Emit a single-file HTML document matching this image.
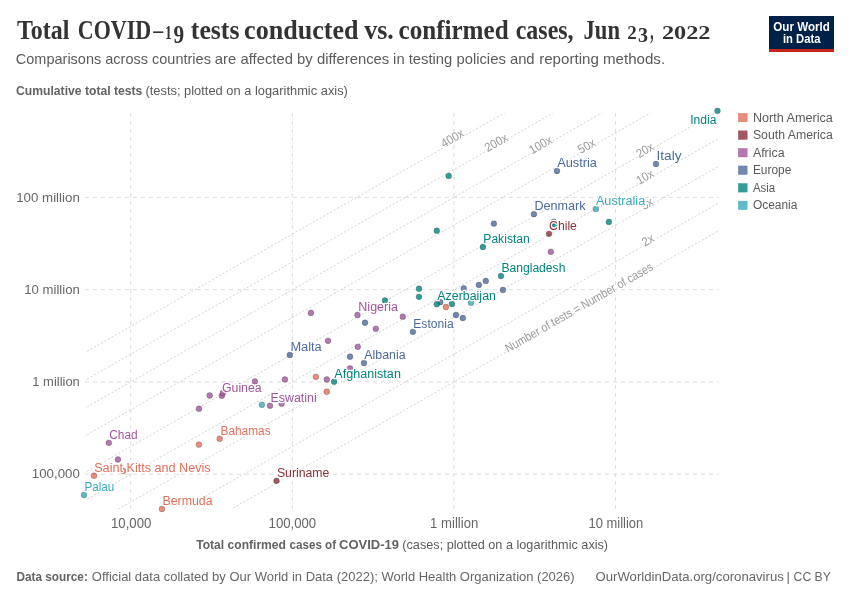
<!DOCTYPE html><html><head><meta charset="utf-8"><style>html,body{margin:0;padding:0;background:#fff;width:850px;height:600px;overflow:hidden}svg{display:block;will-change:transform}</style></head><body>
<svg width="850" height="600" viewBox="0 0 850 600" font-family="Liberation Sans, sans-serif">
<rect width="850" height="600" fill="#fff"/>
<text x="17.10" y="38.7" font-family="Liberation Serif, serif" font-weight="bold" font-size="27" fill="#333" textLength="52.20" lengthAdjust="spacingAndGlyphs">Total</text>
<text x="77.80" y="38.7" font-family="Liberation Serif, serif" font-weight="bold" font-size="27" fill="#333" textLength="73.40" lengthAdjust="spacingAndGlyphs">COVID</text>
<text x="153.30" y="38.2" font-family="Liberation Serif, serif" font-weight="bold" font-size="24" fill="#333" textLength="9.90" lengthAdjust="spacingAndGlyphs">–</text>
<text x="165.00" y="38.7" font-family="Liberation Serif, serif" font-weight="bold" font-size="18.6" fill="#333" textLength="6.80" lengthAdjust="spacingAndGlyphs">1</text>
<text x="173.50" y="42.5" font-family="Liberation Serif, serif" font-weight="bold" font-size="25.5" fill="#333" textLength="10.60" lengthAdjust="spacingAndGlyphs">9</text>
<text x="190.80" y="38.7" font-family="Liberation Serif, serif" font-weight="bold" font-size="27" fill="#333" textLength="48.70" lengthAdjust="spacingAndGlyphs">tests</text>
<text x="244.10" y="38.7" font-family="Liberation Serif, serif" font-weight="bold" font-size="27" fill="#333" textLength="114.40" lengthAdjust="spacingAndGlyphs">conducted</text>
<text x="364.20" y="38.7" font-family="Liberation Serif, serif" font-weight="bold" font-size="27" fill="#333" textLength="29.60" lengthAdjust="spacingAndGlyphs">vs.</text>
<text x="398.50" y="38.7" font-family="Liberation Serif, serif" font-weight="bold" font-size="27" fill="#333" textLength="110.10" lengthAdjust="spacingAndGlyphs">confirmed</text>
<text x="515.70" y="38.7" font-family="Liberation Serif, serif" font-weight="bold" font-size="27" fill="#333" textLength="57.90" lengthAdjust="spacingAndGlyphs">cases,</text>
<text x="583.50" y="38.7" font-family="Liberation Serif, serif" font-weight="bold" font-size="27" fill="#333" textLength="36.50" lengthAdjust="spacingAndGlyphs">Jun</text>
<text x="627.30" y="38.9" font-family="Liberation Serif, serif" font-weight="bold" font-size="19" fill="#333" textLength="9.50" lengthAdjust="spacingAndGlyphs">2</text>
<text x="637.90" y="42.2" font-family="Liberation Serif, serif" font-weight="bold" font-size="22" fill="#333" textLength="10.00" lengthAdjust="spacingAndGlyphs">3</text>
<text x="650.20" y="38.7" font-family="Liberation Serif, serif" font-weight="bold" font-size="27" fill="#333" textLength="3.30" lengthAdjust="spacingAndGlyphs">,</text>
<text x="661.90" y="38.9" font-family="Liberation Serif, serif" font-weight="bold" font-size="19" fill="#333" textLength="48.60" lengthAdjust="spacingAndGlyphs">2022</text>
<text x="15.80" y="64.4" font-size="14.6" fill="#5b5b5b" textLength="195.10" lengthAdjust="spacingAndGlyphs">Comparisons across countries</text>
<text x="214.80" y="64.4" font-size="14.6" fill="#5b5b5b" textLength="174.50" lengthAdjust="spacingAndGlyphs">are affected by differences</text>
<text x="393.10" y="64.4" font-size="14.6" fill="#5b5b5b" textLength="141.50" lengthAdjust="spacingAndGlyphs">in testing policies and</text>
<text x="539.20" y="64.4" font-size="14.6" fill="#5b5b5b" textLength="125.90" lengthAdjust="spacingAndGlyphs">reporting methods.</text>
<text x="16" y="95.2" font-size="12.6" fill="#636363"><tspan font-weight="bold" textLength="126.4" lengthAdjust="spacingAndGlyphs">Cumulative total tests</tspan></text>
<text x="145.5" y="95.2" font-size="12.6" fill="#5b5b5b" textLength="202.4" lengthAdjust="spacingAndGlyphs">(tests; plotted on a logarithmic axis)</text>
<rect x="769" y="16" width="65" height="36" fill="#002147"/><rect x="769" y="49" width="65" height="3" fill="#c8261d"/>
<text x="801.6" y="30.8" font-size="12.2" font-weight="bold" fill="#fff" text-anchor="middle" textLength="56.5" lengthAdjust="spacingAndGlyphs">Our World</text>
<text x="801.7" y="42.6" font-size="12.2" font-weight="bold" fill="#fff" text-anchor="middle" textLength="37.5" lengthAdjust="spacingAndGlyphs">in Data</text>
<line x1="85" y1="197.4" x2="719" y2="197.4" stroke="#dddddd" stroke-width="1" stroke-dasharray="4,4"/>
<line x1="85" y1="289.66" x2="719" y2="289.66" stroke="#dddddd" stroke-width="1" stroke-dasharray="4,4"/>
<line x1="85" y1="381.93" x2="719" y2="381.93" stroke="#dddddd" stroke-width="1" stroke-dasharray="4,4"/>
<line x1="85" y1="474.2" x2="719" y2="474.2" stroke="#dddddd" stroke-width="1" stroke-dasharray="4,4"/>
<line x1="130.75" y1="113" x2="130.75" y2="509" stroke="#dddddd" stroke-width="1" stroke-dasharray="4,4"/>
<line x1="292.35" y1="113" x2="292.35" y2="509" stroke="#dddddd" stroke-width="1" stroke-dasharray="4,4"/>
<line x1="453.95" y1="113" x2="453.95" y2="509" stroke="#dddddd" stroke-width="1" stroke-dasharray="4,4"/>
<line x1="615.55" y1="113" x2="615.55" y2="509" stroke="#dddddd" stroke-width="1" stroke-dasharray="4,4"/>
<clipPath id="pc"><rect x="85" y="113" width="634" height="396"/></clipPath>
<g clip-path="url(#pc)">
<line x1="35" y1="381.05" x2="769" y2="-38.05" stroke="#c4c4c4" stroke-width="0.8" stroke-dasharray="2,2"/>
<line x1="35" y1="408.83" x2="769" y2="-10.27" stroke="#c4c4c4" stroke-width="0.8" stroke-dasharray="2,2"/>
<line x1="35" y1="436.60" x2="769" y2="17.50" stroke="#c4c4c4" stroke-width="0.8" stroke-dasharray="2,2"/>
<line x1="35" y1="464.38" x2="769" y2="45.28" stroke="#c4c4c4" stroke-width="0.8" stroke-dasharray="2,2"/>
<line x1="35" y1="501.10" x2="769" y2="82.00" stroke="#c4c4c4" stroke-width="0.8" stroke-dasharray="2,2"/>
<line x1="35" y1="528.87" x2="769" y2="109.77" stroke="#c4c4c4" stroke-width="0.8" stroke-dasharray="2,2"/>
<line x1="35" y1="556.65" x2="769" y2="137.55" stroke="#c4c4c4" stroke-width="0.8" stroke-dasharray="2,2"/>
<line x1="35" y1="593.37" x2="769" y2="174.27" stroke="#c4c4c4" stroke-width="0.8" stroke-dasharray="2,2"/>
<line x1="35" y1="621.14" x2="769" y2="202.04" stroke="#c4c4c4" stroke-width="0.8" stroke-dasharray="2,2"/>
</g>
<text transform="translate(452,137.7) rotate(-29.73)" x="0" y="4.8" font-size="12.3" fill="#999" text-anchor="middle" stroke="#fff" stroke-width="2" paint-order="stroke" textLength="24.5" lengthAdjust="spacingAndGlyphs">400x</text>
<text transform="translate(495.8,142) rotate(-29.73)" x="0" y="4.8" font-size="12.3" fill="#999" text-anchor="middle" stroke="#fff" stroke-width="2" paint-order="stroke" textLength="24.5" lengthAdjust="spacingAndGlyphs">200x</text>
<text transform="translate(540.2,144.3) rotate(-29.73)" x="0" y="4.8" font-size="12.3" fill="#999" text-anchor="middle" stroke="#fff" stroke-width="2" paint-order="stroke" textLength="24.5" lengthAdjust="spacingAndGlyphs">100x</text>
<text transform="translate(586.2,145.4) rotate(-29.73)" x="0" y="4.8" font-size="12.3" fill="#999" text-anchor="middle" stroke="#fff" stroke-width="2" paint-order="stroke" textLength="18" lengthAdjust="spacingAndGlyphs">50x</text>
<text transform="translate(644.6,149.5) rotate(-29.73)" x="0" y="4.8" font-size="12.3" fill="#999" text-anchor="middle" stroke="#fff" stroke-width="2" paint-order="stroke" textLength="18" lengthAdjust="spacingAndGlyphs">20x</text>
<text transform="translate(644.6,176.3) rotate(-29.73)" x="0" y="4.8" font-size="12.3" fill="#999" text-anchor="middle" stroke="#fff" stroke-width="2" paint-order="stroke" textLength="18" lengthAdjust="spacingAndGlyphs">10x</text>
<text transform="translate(646.7,203) rotate(-29.73)" x="0" y="4.8" font-size="12.3" fill="#999" text-anchor="middle" stroke="#fff" stroke-width="2" paint-order="stroke" textLength="12" lengthAdjust="spacingAndGlyphs">5x</text>
<text transform="translate(647.5,239.5) rotate(-29.73)" x="0" y="4.8" font-size="12.3" fill="#999" text-anchor="middle" stroke="#fff" stroke-width="2" paint-order="stroke" textLength="12" lengthAdjust="spacingAndGlyphs">2x</text>
<text transform="translate(578.6,306.9) rotate(-29.73)" x="0" y="4.8" font-size="12.3" fill="#999" text-anchor="middle" stroke="#fff" stroke-width="2" paint-order="stroke" textLength="168" lengthAdjust="spacingAndGlyphs">Number of tests = Number of cases</text>
<circle cx="199" cy="408.7" r="2.9" fill="#a2559c" fill-opacity="0.8" stroke="#333" stroke-opacity="0.55" stroke-width="0.5"/>
<circle cx="270" cy="405.7" r="2.9" fill="#a2559c" fill-opacity="0.8" stroke="#333" stroke-opacity="0.55" stroke-width="0.5"/>
<circle cx="108.8" cy="442.8" r="2.9" fill="#a2559c" fill-opacity="0.8" stroke="#333" stroke-opacity="0.55" stroke-width="0.5"/>
<circle cx="117.9" cy="459.5" r="2.9" fill="#a2559c" fill-opacity="0.8" stroke="#333" stroke-opacity="0.55" stroke-width="0.5"/>
<circle cx="254.9" cy="381.4" r="2.9" fill="#a2559c" fill-opacity="0.8" stroke="#333" stroke-opacity="0.55" stroke-width="0.5"/>
<circle cx="284.9" cy="379.4" r="2.9" fill="#a2559c" fill-opacity="0.8" stroke="#333" stroke-opacity="0.55" stroke-width="0.5"/>
<circle cx="209.7" cy="395.5" r="2.9" fill="#a2559c" fill-opacity="0.8" stroke="#333" stroke-opacity="0.55" stroke-width="0.5"/>
<circle cx="221.8" cy="395.8" r="2.9" fill="#a2559c" fill-opacity="0.8" stroke="#333" stroke-opacity="0.55" stroke-width="0.5"/>
<circle cx="222.9" cy="393" r="2.9" fill="#a2559c" fill-opacity="0.8" stroke="#333" stroke-opacity="0.55" stroke-width="0.5"/>
<circle cx="281.6" cy="403.7" r="2.9" fill="#a2559c" fill-opacity="0.8" stroke="#333" stroke-opacity="0.55" stroke-width="0.5"/>
<circle cx="310.9" cy="312.9" r="2.9" fill="#a2559c" fill-opacity="0.8" stroke="#333" stroke-opacity="0.55" stroke-width="0.5"/>
<circle cx="328" cy="340.8" r="2.9" fill="#a2559c" fill-opacity="0.8" stroke="#333" stroke-opacity="0.55" stroke-width="0.5"/>
<circle cx="326.8" cy="379.5" r="2.9" fill="#a2559c" fill-opacity="0.8" stroke="#333" stroke-opacity="0.55" stroke-width="0.5"/>
<circle cx="357.8" cy="346.8" r="2.9" fill="#a2559c" fill-opacity="0.8" stroke="#333" stroke-opacity="0.55" stroke-width="0.5"/>
<circle cx="350" cy="368.5" r="2.9" fill="#a2559c" fill-opacity="0.8" stroke="#333" stroke-opacity="0.55" stroke-width="0.5"/>
<circle cx="357.5" cy="315" r="2.9" fill="#a2559c" fill-opacity="0.8" stroke="#333" stroke-opacity="0.55" stroke-width="0.5"/>
<circle cx="375.8" cy="328.8" r="2.9" fill="#a2559c" fill-opacity="0.8" stroke="#333" stroke-opacity="0.55" stroke-width="0.5"/>
<circle cx="402.8" cy="316.7" r="2.9" fill="#a2559c" fill-opacity="0.8" stroke="#333" stroke-opacity="0.55" stroke-width="0.5"/>
<circle cx="550.8" cy="251.8" r="2.9" fill="#a2559c" fill-opacity="0.8" stroke="#333" stroke-opacity="0.55" stroke-width="0.5"/>
<circle cx="219.7" cy="438.7" r="2.9" fill="#e56e5a" fill-opacity="0.8" stroke="#333" stroke-opacity="0.55" stroke-width="0.5"/>
<circle cx="198.9" cy="444.6" r="2.9" fill="#e56e5a" fill-opacity="0.8" stroke="#333" stroke-opacity="0.55" stroke-width="0.5"/>
<circle cx="94" cy="475.7" r="2.9" fill="#e56e5a" fill-opacity="0.8" stroke="#333" stroke-opacity="0.55" stroke-width="0.5"/>
<circle cx="162" cy="509" r="2.9" fill="#e56e5a" fill-opacity="0.8" stroke="#333" stroke-opacity="0.55" stroke-width="0.5"/>
<circle cx="315.9" cy="376.8" r="2.9" fill="#e56e5a" fill-opacity="0.8" stroke="#333" stroke-opacity="0.55" stroke-width="0.5"/>
<circle cx="326.8" cy="391.7" r="2.9" fill="#e56e5a" fill-opacity="0.8" stroke="#333" stroke-opacity="0.55" stroke-width="0.5"/>
<circle cx="445.9" cy="307" r="2.9" fill="#e56e5a" fill-opacity="0.8" stroke="#333" stroke-opacity="0.55" stroke-width="0.5"/>
<circle cx="123" cy="471" r="2.9" fill="#e56e5a" fill-opacity="0.8" stroke="#333" stroke-opacity="0.55" stroke-width="0.5"/>
<circle cx="276.5" cy="480.8" r="2.9" fill="#883039" fill-opacity="0.8" stroke="#333" stroke-opacity="0.55" stroke-width="0.5"/>
<circle cx="549" cy="233.8" r="2.9" fill="#883039" fill-opacity="0.8" stroke="#333" stroke-opacity="0.55" stroke-width="0.5"/>
<circle cx="289.8" cy="355" r="2.9" fill="#4c6a9c" fill-opacity="0.8" stroke="#333" stroke-opacity="0.55" stroke-width="0.5"/>
<circle cx="350" cy="356.7" r="2.9" fill="#4c6a9c" fill-opacity="0.8" stroke="#333" stroke-opacity="0.55" stroke-width="0.5"/>
<circle cx="364" cy="363" r="2.9" fill="#4c6a9c" fill-opacity="0.8" stroke="#333" stroke-opacity="0.55" stroke-width="0.5"/>
<circle cx="365" cy="322.7" r="2.9" fill="#4c6a9c" fill-opacity="0.8" stroke="#333" stroke-opacity="0.55" stroke-width="0.5"/>
<circle cx="412.9" cy="331.8" r="2.9" fill="#4c6a9c" fill-opacity="0.8" stroke="#333" stroke-opacity="0.55" stroke-width="0.5"/>
<circle cx="440.2" cy="302.2" r="2.9" fill="#4c6a9c" fill-opacity="0.8" stroke="#333" stroke-opacity="0.55" stroke-width="0.5"/>
<circle cx="456" cy="315" r="2.9" fill="#4c6a9c" fill-opacity="0.8" stroke="#333" stroke-opacity="0.55" stroke-width="0.5"/>
<circle cx="462.8" cy="318" r="2.9" fill="#4c6a9c" fill-opacity="0.8" stroke="#333" stroke-opacity="0.55" stroke-width="0.5"/>
<circle cx="463.8" cy="288.4" r="2.9" fill="#4c6a9c" fill-opacity="0.8" stroke="#333" stroke-opacity="0.55" stroke-width="0.5"/>
<circle cx="478.9" cy="284.9" r="2.9" fill="#4c6a9c" fill-opacity="0.8" stroke="#333" stroke-opacity="0.55" stroke-width="0.5"/>
<circle cx="485.8" cy="280.9" r="2.9" fill="#4c6a9c" fill-opacity="0.8" stroke="#333" stroke-opacity="0.55" stroke-width="0.5"/>
<circle cx="502.9" cy="289.9" r="2.9" fill="#4c6a9c" fill-opacity="0.8" stroke="#333" stroke-opacity="0.55" stroke-width="0.5"/>
<circle cx="493.9" cy="223.6" r="2.9" fill="#4c6a9c" fill-opacity="0.8" stroke="#333" stroke-opacity="0.55" stroke-width="0.5"/>
<circle cx="533.9" cy="214.2" r="2.9" fill="#4c6a9c" fill-opacity="0.8" stroke="#333" stroke-opacity="0.55" stroke-width="0.5"/>
<circle cx="557" cy="171" r="2.9" fill="#4c6a9c" fill-opacity="0.8" stroke="#333" stroke-opacity="0.55" stroke-width="0.5"/>
<circle cx="656" cy="164" r="2.9" fill="#4c6a9c" fill-opacity="0.8" stroke="#333" stroke-opacity="0.55" stroke-width="0.5"/>
<circle cx="334.1" cy="381.7" r="2.9" fill="#00847e" fill-opacity="0.8" stroke="#333" stroke-opacity="0.55" stroke-width="0.5"/>
<circle cx="385" cy="300.4" r="2.9" fill="#00847e" fill-opacity="0.8" stroke="#333" stroke-opacity="0.55" stroke-width="0.5"/>
<circle cx="419" cy="288.7" r="2.9" fill="#00847e" fill-opacity="0.8" stroke="#333" stroke-opacity="0.55" stroke-width="0.5"/>
<circle cx="419" cy="296.8" r="2.9" fill="#00847e" fill-opacity="0.8" stroke="#333" stroke-opacity="0.55" stroke-width="0.5"/>
<circle cx="436.8" cy="304.2" r="2.9" fill="#00847e" fill-opacity="0.8" stroke="#333" stroke-opacity="0.55" stroke-width="0.5"/>
<circle cx="452" cy="304" r="2.9" fill="#00847e" fill-opacity="0.8" stroke="#333" stroke-opacity="0.55" stroke-width="0.5"/>
<circle cx="448.7" cy="175.9" r="2.9" fill="#00847e" fill-opacity="0.8" stroke="#333" stroke-opacity="0.55" stroke-width="0.5"/>
<circle cx="436.8" cy="230.7" r="2.9" fill="#00847e" fill-opacity="0.8" stroke="#333" stroke-opacity="0.55" stroke-width="0.5"/>
<circle cx="482.9" cy="247" r="2.9" fill="#00847e" fill-opacity="0.8" stroke="#333" stroke-opacity="0.55" stroke-width="0.5"/>
<circle cx="501" cy="276" r="2.9" fill="#00847e" fill-opacity="0.8" stroke="#333" stroke-opacity="0.55" stroke-width="0.5"/>
<circle cx="608.9" cy="221.9" r="2.9" fill="#00847e" fill-opacity="0.8" stroke="#333" stroke-opacity="0.55" stroke-width="0.5"/>
<circle cx="717.5" cy="110.8" r="2.9" fill="#00847e" fill-opacity="0.8" stroke="#333" stroke-opacity="0.55" stroke-width="0.5"/>
<circle cx="84" cy="495" r="2.9" fill="#38aaba" fill-opacity="0.8" stroke="#333" stroke-opacity="0.55" stroke-width="0.5"/>
<circle cx="261.9" cy="404.8" r="2.9" fill="#38aaba" fill-opacity="0.8" stroke="#333" stroke-opacity="0.55" stroke-width="0.5"/>
<circle cx="471" cy="302.7" r="2.9" fill="#38aaba" fill-opacity="0.8" stroke="#333" stroke-opacity="0.55" stroke-width="0.5"/>
<circle cx="595.8" cy="208.9" r="2.9" fill="#38aaba" fill-opacity="0.8" stroke="#333" stroke-opacity="0.55" stroke-width="0.5"/>
<circle cx="553.8" cy="221.8" r="2.9" fill="#4c6a9c" fill-opacity="0.8" stroke="#333" stroke-opacity="0.55" stroke-width="0.5"/>
<circle cx="554.6" cy="224.3" r="2.9" fill="#00847e" fill-opacity="0.8" stroke="#333" stroke-opacity="0.55" stroke-width="0.5"/>
<text x="690.20" y="124.10" font-size="12.5" fill="#00847e" stroke="#fff" stroke-width="2.5" stroke-linejoin="round" paint-order="stroke" textLength="26.2" lengthAdjust="spacingAndGlyphs">India</text>
<text x="656.50" y="160.40" font-size="12.5" fill="#4c6a9c" stroke="#fff" stroke-width="2.5" stroke-linejoin="round" paint-order="stroke" textLength="25" lengthAdjust="spacingAndGlyphs">Italy</text>
<text x="557.20" y="167.00" font-size="12.5" fill="#4c6a9c" stroke="#fff" stroke-width="2.5" stroke-linejoin="round" paint-order="stroke" textLength="39.8" lengthAdjust="spacingAndGlyphs">Austria</text>
<text x="534.40" y="210.00" font-size="12.5" fill="#4c6a9c" stroke="#fff" stroke-width="2.5" stroke-linejoin="round" paint-order="stroke" textLength="51.2" lengthAdjust="spacingAndGlyphs">Denmark</text>
<text x="595.90" y="204.70" font-size="12.5" fill="#38aaba" stroke="#fff" stroke-width="2.5" stroke-linejoin="round" paint-order="stroke" textLength="49.3" lengthAdjust="spacingAndGlyphs">Australia</text>
<text x="549.10" y="229.80" font-size="12.5" fill="#883039" stroke="#fff" stroke-width="2.5" stroke-linejoin="round" paint-order="stroke" textLength="27.8" lengthAdjust="spacingAndGlyphs">Chile</text>
<text x="483.30" y="242.90" font-size="12.5" fill="#00847e" stroke="#fff" stroke-width="2.5" stroke-linejoin="round" paint-order="stroke" textLength="46.5" lengthAdjust="spacingAndGlyphs">Pakistan</text>
<text x="501.40" y="271.70" font-size="12.5" fill="#00847e" stroke="#fff" stroke-width="2.5" stroke-linejoin="round" paint-order="stroke" textLength="64" lengthAdjust="spacingAndGlyphs">Bangladesh</text>
<text x="358.30" y="310.80" font-size="12.5" fill="#a2559c" stroke="#fff" stroke-width="2.5" stroke-linejoin="round" paint-order="stroke" textLength="39.7" lengthAdjust="spacingAndGlyphs">Nigeria</text>
<text x="437.20" y="299.80" font-size="12.5" fill="#00847e" stroke="#fff" stroke-width="2.5" stroke-linejoin="round" paint-order="stroke" textLength="58.8" lengthAdjust="spacingAndGlyphs">Azerbaijan</text>
<text x="413.30" y="327.70" font-size="12.5" fill="#4c6a9c" stroke="#fff" stroke-width="2.5" stroke-linejoin="round" paint-order="stroke" textLength="40.4" lengthAdjust="spacingAndGlyphs">Estonia</text>
<text x="290.40" y="351.20" font-size="12.5" fill="#4c6a9c" stroke="#fff" stroke-width="2.5" stroke-linejoin="round" paint-order="stroke" textLength="31.3" lengthAdjust="spacingAndGlyphs">Malta</text>
<text x="364.30" y="358.70" font-size="12.5" fill="#4c6a9c" stroke="#fff" stroke-width="2.5" stroke-linejoin="round" paint-order="stroke" textLength="41.2" lengthAdjust="spacingAndGlyphs">Albania</text>
<text x="334.30" y="377.90" font-size="12.5" fill="#00847e" stroke="#fff" stroke-width="2.5" stroke-linejoin="round" paint-order="stroke" textLength="66.6" lengthAdjust="spacingAndGlyphs">Afghanistan</text>
<text x="222.00" y="391.90" font-size="12.5" fill="#a2559c" stroke="#fff" stroke-width="2.5" stroke-linejoin="round" paint-order="stroke" textLength="39.6" lengthAdjust="spacingAndGlyphs">Guinea</text>
<text x="270.50" y="401.50" font-size="12.5" fill="#a2559c" stroke="#fff" stroke-width="2.5" stroke-linejoin="round" paint-order="stroke" textLength="46.2" lengthAdjust="spacingAndGlyphs">Eswatini</text>
<text x="109.30" y="438.90" font-size="12.5" fill="#a2559c" stroke="#fff" stroke-width="2.5" stroke-linejoin="round" paint-order="stroke" textLength="28.4" lengthAdjust="spacingAndGlyphs">Chad</text>
<text x="220.50" y="434.80" font-size="12.5" fill="#e56e5a" stroke="#fff" stroke-width="2.5" stroke-linejoin="round" paint-order="stroke" textLength="50.1" lengthAdjust="spacingAndGlyphs">Bahamas</text>
<text x="94.20" y="472.00" font-size="12.5" fill="#e56e5a" stroke="#fff" stroke-width="2.5" stroke-linejoin="round" paint-order="stroke" textLength="116.5" lengthAdjust="spacingAndGlyphs">Saint Kitts and Nevis</text>
<text x="276.90" y="477.20" font-size="12.5" fill="#883039" stroke="#fff" stroke-width="2.5" stroke-linejoin="round" paint-order="stroke" textLength="52.5" lengthAdjust="spacingAndGlyphs">Suriname</text>
<text x="84.60" y="491.00" font-size="12.5" fill="#38aaba" stroke="#fff" stroke-width="2.5" stroke-linejoin="round" paint-order="stroke" textLength="29.7" lengthAdjust="spacingAndGlyphs">Palau</text>
<text x="162.40" y="505.10" font-size="12.5" fill="#e56e5a" stroke="#fff" stroke-width="2.5" stroke-linejoin="round" paint-order="stroke" textLength="50.2" lengthAdjust="spacingAndGlyphs">Bermuda</text>
<text x="79.8" y="201.6" font-size="13.5" fill="#666" text-anchor="end" textLength="63.6" lengthAdjust="spacingAndGlyphs">100 million</text>
<text x="79.8" y="293.5" font-size="13.5" fill="#666" text-anchor="end" textLength="55.5" lengthAdjust="spacingAndGlyphs">10 million</text>
<text x="79.8" y="385.8" font-size="13.5" fill="#666" text-anchor="end" textLength="47.5" lengthAdjust="spacingAndGlyphs">1 million</text>
<text x="79.8" y="478.3" font-size="13.5" fill="#666" text-anchor="end" textLength="48" lengthAdjust="spacingAndGlyphs">100,000</text>
<text x="131.2" y="527.8" font-size="13.8" fill="#666" text-anchor="middle" textLength="40.3" lengthAdjust="spacingAndGlyphs">10,000</text>
<text x="292.4" y="527.8" font-size="13.8" fill="#666" text-anchor="middle" textLength="47.6" lengthAdjust="spacingAndGlyphs">100,000</text>
<text x="454.2" y="527.8" font-size="13.8" fill="#666" text-anchor="middle" textLength="48.2" lengthAdjust="spacingAndGlyphs">1 million</text>
<text x="615.9" y="527.8" font-size="13.8" fill="#666" text-anchor="middle" textLength="54.6" lengthAdjust="spacingAndGlyphs">10 million</text>
<text x="196.2" y="548.8" font-size="12.6" font-weight="bold" fill="#636363" textLength="89.80" lengthAdjust="spacingAndGlyphs">Total confirmed</text>
<text x="289.6" y="548.8" font-size="12.6" font-weight="bold" fill="#636363" textLength="46.40" lengthAdjust="spacingAndGlyphs">cases of</text>
<text x="339" y="548.8" font-size="12.6" font-weight="bold" fill="#636363" textLength="60.00" lengthAdjust="spacingAndGlyphs">COVID-19</text>
<text x="402.3" y="548.8" font-size="12.6" fill="#5b5b5b" textLength="205.8" lengthAdjust="spacingAndGlyphs">(cases; plotted on a logarithmic axis)</text>
<rect x="738.3" y="113.30" width="8.9" height="8.6" fill="#e56e5a" fill-opacity="0.8" stroke="#e56e5a" stroke-width="0.3"/>
<text x="752.9" y="121.60" font-size="12" fill="#5b5b5b" textLength="79.9" lengthAdjust="spacingAndGlyphs">North America</text>
<rect x="738.3" y="130.85" width="8.9" height="8.6" fill="#883039" fill-opacity="0.8" stroke="#883039" stroke-width="0.3"/>
<text x="752.9" y="139.15" font-size="12" fill="#5b5b5b" textLength="79.9" lengthAdjust="spacingAndGlyphs">South America</text>
<rect x="738.3" y="148.40" width="8.9" height="8.6" fill="#a2559c" fill-opacity="0.8" stroke="#a2559c" stroke-width="0.3"/>
<text x="752.9" y="156.70" font-size="12" fill="#5b5b5b" textLength="31.7" lengthAdjust="spacingAndGlyphs">Africa</text>
<rect x="738.3" y="165.95" width="8.9" height="8.6" fill="#4c6a9c" fill-opacity="0.8" stroke="#4c6a9c" stroke-width="0.3"/>
<text x="752.9" y="174.25" font-size="12" fill="#5b5b5b" textLength="38.4" lengthAdjust="spacingAndGlyphs">Europe</text>
<rect x="738.3" y="183.50" width="8.9" height="8.6" fill="#00847e" fill-opacity="0.8" stroke="#00847e" stroke-width="0.3"/>
<text x="752.9" y="191.80" font-size="12" fill="#5b5b5b" textLength="22.3" lengthAdjust="spacingAndGlyphs">Asia</text>
<rect x="738.3" y="201.05" width="8.9" height="8.6" fill="#38aaba" fill-opacity="0.8" stroke="#38aaba" stroke-width="0.3"/>
<text x="752.9" y="209.35" font-size="12" fill="#5b5b5b" textLength="44.5" lengthAdjust="spacingAndGlyphs">Oceania</text>
<text x="16.5" y="581" font-size="13" font-weight="bold" fill="#636363" textLength="71.3" lengthAdjust="spacingAndGlyphs">Data source:</text>
<text x="91.8" y="581" font-size="13" fill="#666" textLength="482.8" lengthAdjust="spacingAndGlyphs">Official data collated by Our World in Data (2022); World Health Organization (2026)</text>
<text x="595.5" y="581" font-size="13" fill="#666" textLength="188.30" lengthAdjust="spacingAndGlyphs">OurWorldinData.org/coronavirus</text>
<text x="786.6" y="581" font-size="13" fill="#666" textLength="3.40" lengthAdjust="spacingAndGlyphs">|</text>
<text x="793.6" y="581" font-size="13" fill="#666" textLength="37.20" lengthAdjust="spacingAndGlyphs">CC BY</text>
</svg></body></html>
